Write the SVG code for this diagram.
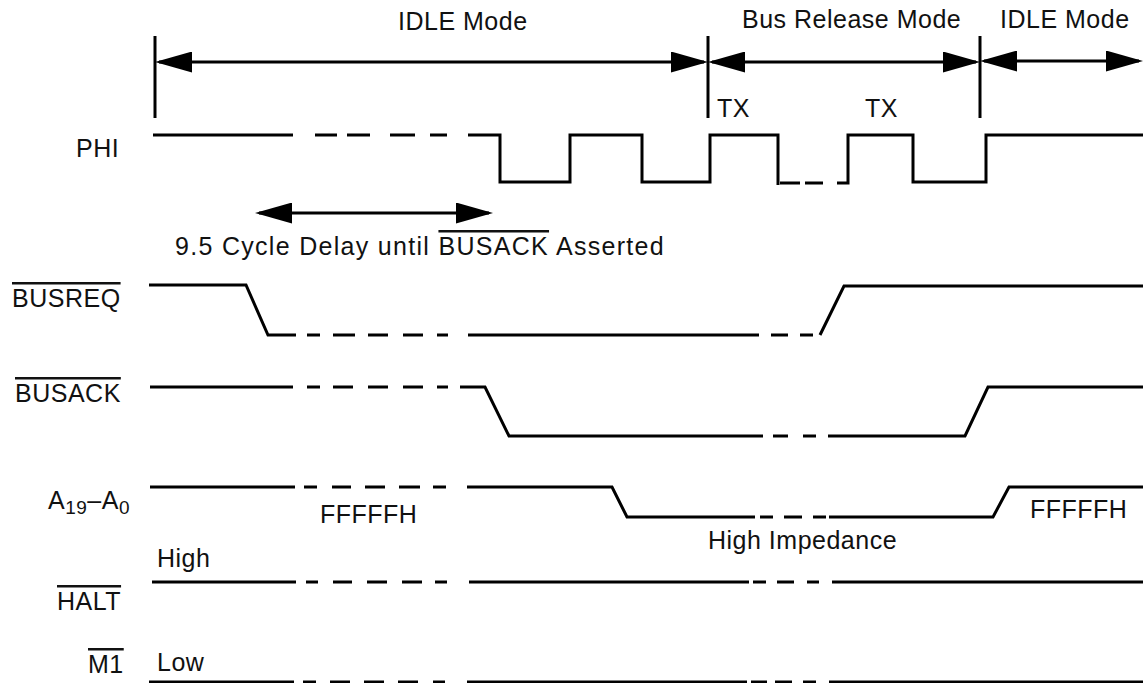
<svg xmlns="http://www.w3.org/2000/svg" width="1143" height="683" viewBox="0 0 1143 683">
<style>
text{font-family:"Liberation Sans",Arial,sans-serif;font-size:25px;fill:#111;letter-spacing:0.5px}
.sig{fill:none;stroke:#000;stroke-width:3;stroke-linejoin:miter}
.bar{stroke:#000;stroke-width:3}
.arr{stroke:#000;stroke-width:3;marker-start:url(#ah);marker-end:url(#ah)}
.ov{text-decoration:overline}
</style>
<defs>
<marker id="ah" viewBox="0 0 37 21" markerWidth="37" markerHeight="21" refX="33" refY="10.5" markerUnits="userSpaceOnUse" orient="auto-start-reverse">
<path d="M0,0 L37,10.5 L0,21 Z" fill="#000"/>
</marker>
</defs>
<g id="modes">
<text x="398" y="30">IDLE Mode</text>
<text x="742" y="28">Bus Release Mode</text>
<text x="1000" y="28">IDLE Mode</text>
<line class="bar" x1="155" y1="36" x2="155" y2="118"/>
<line class="bar" x1="708" y1="36" x2="708" y2="118"/>
<line class="bar" x1="980" y1="36" x2="980" y2="118"/>
<text x="717" y="117">TX</text>
<text x="865" y="117">TX</text>
</g>
<g id="connectors">
<line class="arr" x1="159" y1="62" x2="704" y2="62"/>
<line class="arr" x1="712" y1="62" x2="976" y2="62"/>
<line class="arr" x1="984" y1="61" x2="1139" y2="61"/>
<line class="arr" x1="259" y1="213" x2="489" y2="213"/>
</g>
<g id="delay-label">
<text x="175" y="255" style="letter-spacing:1.3px">9.5 Cycle Delay until <tspan class="ov">BUSACK</tspan> Asserted</text>
</g>
<g id="phi">
<text x="76" y="157">PHI</text>
<path class="sig" d="M153,135 H293 M315,135 H337 M347,135 H370 M390,135 H415 M430,135 H447 M468,135 H500 V182 H570 V135 H642 V182 H710 V135 H778 V185 M780,183 H800 M805,183 H823 M837,183 H848 V135 H913 V182 H986 V135 H1143"/>
</g>
<g id="busreq">
<text x="12" y="307" class="ov">BUSREQ</text>
<path class="sig" d="M149,285 H246 L268,335 H296 M307,335 H320 M333,335 H355 M368,335 H388 M403,335 H423 M437,335 H448 M468,335 H759 M771,335 H788 M800,335 H813 M820,335 L844,286 H1143"/>
</g>
<g id="busack">
<text x="15" y="402" class="ov">BUSACK</text>
<path class="sig" d="M150,387 H293 M307,387 H320 M333,387 H353 M368,387 H388 M403,387 H423 M437,387 H448 M460,387 H485 L509,436 H763 M773,436 H788 M803,436 H816 M828,436 H965 L988,387 H1143"/>
</g>
<g id="address">
<text x="48" y="509">A<tspan font-size="19" dy="5">19</tspan><tspan dy="-5">–A</tspan><tspan font-size="19" dy="5">0</tspan></text>
<path class="sig" d="M150,487 H295 M304,487 H317 M332,487 H351 M365,487 H385 M399,487 H420 M433,487 H446 M467,487 H612 L627,517 H755 M760,517 H773 M784,517 H802 M813,517 H826 M829,517 H993 L1009,487 H1143"/>
<text x="320" y="523">FFFFFH</text>
<text x="708" y="549">High Impedance</text>
<text x="1030" y="518">FFFFFH</text>
</g>
<g id="halt">
<text x="157" y="567">High</text>
<text x="57" y="610" class="ov">HALT</text>
<path class="sig" d="M152,582 H296 M306,582 H318 M333,582 H352 M367,582 H387 M402,582 H422 M435,582 H447 M469,582 H749 M753,582 H766 M777,582 H794 M807,582 H819 M832,582 H1143"/>
</g>
<g id="m1">
<text x="88" y="673" class="ov">M1</text>
<text x="157" y="671">Low</text>
<path class="sig" d="M149,682 H294 M303,682 H316 M330,682 H350 M364,682 H384 M398,682 H418 M433,682 H445 M467,682 H747 M751,682 H767 M775,682 H792 M803,682 H816 M829,682 H1143"/>
</g>
</svg>
